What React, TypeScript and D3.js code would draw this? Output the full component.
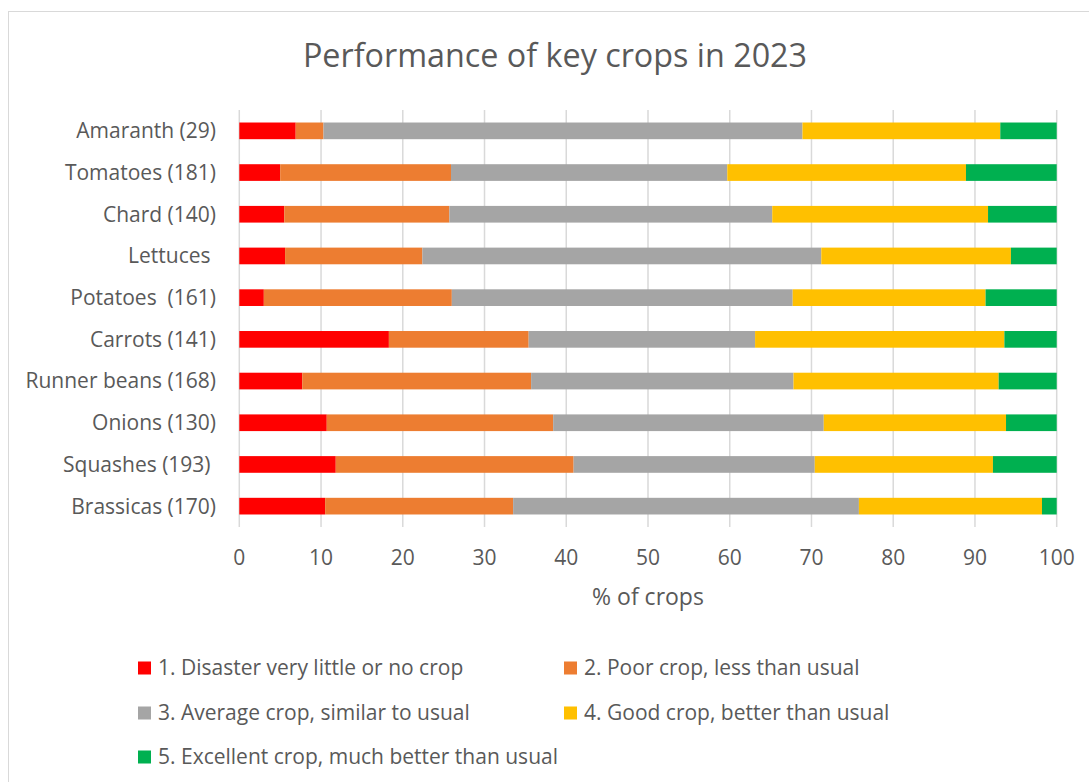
import React from "react";
import * as d3 from "d3";

const categories = [
  "Amaranth (29)",
  "Tomatoes (181)",
  "Chard (140)",
  "Lettuces ",
  "Potatoes  (161)",
  "Carrots (141)",
  "Runner beans (168)",
  "Onions (130)",
  "Squashes (193) ",
  "Brassicas (170)",
];

const seriesNames = [
  "1. Disaster very little or no crop",
  "2. Poor crop, less than usual",
  "3. Average crop, similar to usual",
  "4. Good crop, better than usual",
  "5. Excellent crop, much better than usual",
];

const disaster = [6.9, 5.0, 5.5, 5.6, 3.0, 18.3, 7.7, 10.7, 11.8, 10.5];
const poor = [3.4, 20.9, 20.2, 16.8, 23.0, 17.1, 28.0, 27.7, 29.1, 23.0];
const average = [58.6, 33.8, 39.5, 48.8, 41.7, 27.7, 32.1, 33.1, 29.5, 42.3];
const good = [24.2, 29.2, 26.4, 23.2, 23.6, 30.5, 25.1, 22.3, 21.8, 22.4];
const excellent = [6.9, 11.1, 8.4, 5.6, 8.7, 6.4, 7.1, 6.2, 7.8, 1.8];

const colors = ["#FF0000", "#ED7D31", "#A5A5A5", "#FFC000", "#00B050"];
const xTicks = [0, 10, 20, 30, 40, 50, 60, 70, 80, 90, 100];

const W = 1089;
const H = 782;
const FONT = "'Open Sans', Lato, sans-serif";
const TXT = "#595959";
const FS = 21;

export default function App() {
  const x = d3.scaleLinear().domain([0, 100]).range([239.3, 1056.7]);
  const y = d3
    .scaleBand<string>()
    .domain(categories)
    .range([110, 527])
    .paddingInner(0.6)
    .paddingOuter(0.3);

  const rows = categories.map((c, i) => ({
    cat: c,
    s0: disaster[i],
    s1: poor[i],
    s2: average[i],
    s3: good[i],
    s4: excellent[i],
  }));
  const keys = ["s0", "s1", "s2", "s3", "s4"];
  const stacked = d3.stack<any>().keys(keys)(rows);

  const legendItems = seriesNames.map((n, i) => ({
    name: n,
    color: colors[i],
    col: i % 2,
    row: Math.floor(i / 2),
  }));
  const legendX = [138, 564];
  const legendY = [668, 713, 757];

  return (
    <svg
      width={W}
      height={H}
      style={{ position: "fixed", left: 0, top: 0, background: "#fff" }}
      fontFamily={FONT}
    >
      <rect x={0} y={0} width={W} height={H} fill="#fff" />
      <rect
        x={8.5}
        y={11.5}
        width={1200}
        height={900}
        fill="#fff"
        stroke="#d9d9d9"
        strokeWidth={1}
      />
      <text x={555} y={67} textAnchor="middle" fontSize={32.3} fill={TXT}>
        Performance of key crops in 2023
      </text>

      {xTicks.map((t) => (
        <line
          key={"g" + t}
          x1={x(t)}
          x2={x(t)}
          y1={110}
          y2={527}
          stroke="#d9d9d9"
          strokeWidth={1.5}
        />
      ))}

      {stacked.map((layer, li) => (
        <g key={"l" + li} fill={colors[li]}>
          {layer.map((d: any, i: number) => (
            <rect
              key={i}
              x={x(d[0])}
              y={y(categories[i])}
              width={x(d[1]) - x(d[0])}
              height={y.bandwidth()}
            />
          ))}
        </g>
      ))}

      {categories.map((c) => (
        <text
          key={"c" + c}
          x={216}
          y={(y(c) as number) + y.bandwidth() / 2}
          dy="0.35em"
          textAnchor="end"
          fontSize={FS}
          fill={TXT}
          style={{ whiteSpace: "pre" }}
        >
          {c}
        </text>
      ))}

      {xTicks.map((t) => (
        <text
          key={"t" + t}
          x={x(t)}
          y={565}
          textAnchor="middle"
          fontSize={FS}
          fill={TXT}
        >
          {t}
        </text>
      ))}

      <text
        x={(x(0) + x(100)) / 2}
        y={605}
        textAnchor="middle"
        fontSize={23}
        fill={TXT}
      >
        % of crops
      </text>

      {legendItems.map((it) => (
        <g key={it.name}>
          <rect
            x={legendX[it.col]}
            y={legendY[it.row] - 6.5}
            width={13}
            height={13}
            fill={it.color}
          />
          <text
            x={legendX[it.col] + 20}
            y={legendY[it.row]}
            dy="0.35em"
            fontSize={FS}
            fill={TXT}
          >
            {it.name}
          </text>
        </g>
      ))}
    </svg>
  );
}
